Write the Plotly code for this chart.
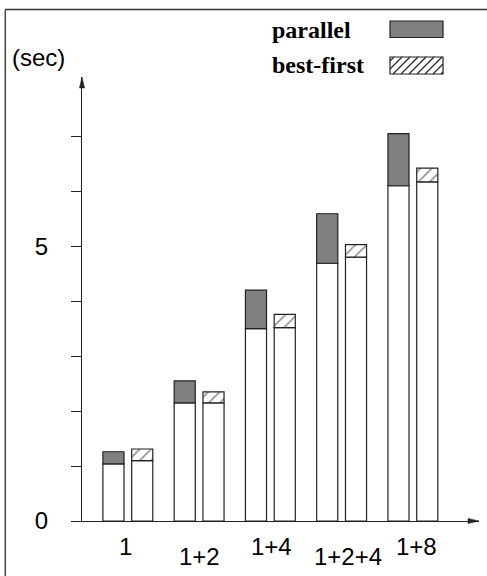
import plotly.graph_objects as go

# Run configurations (x categories)
configs = ["1", "1+2", "1+4", "1+2+4", "1+8"]
label_row = [0, 1, 0, 1, 0]          # alternate label rows to avoid overlap
label_nudge = [-2, 0, 1, 6, 4]       # small horizontal nudges of labels (px)

# Execution times in seconds
parallel_base = [1.04, 2.15, 3.50, 4.69, 6.10]
parallel_total = [1.26, 2.55, 4.20, 5.59, 7.05]
bestfirst_base = [1.10, 2.15, 3.52, 4.80, 6.17]
bestfirst_total = [1.31, 2.35, 3.76, 5.03, 6.42]

y_ticks = [0, 1, 2, 3, 4, 5, 6, 7]
y_tick_text = ["0", "", "", "", "", "5", "", ""]

W, H = 487, 576
ML, MR, MT, MB = 82, 8, 77, 55
PW, PH = W - ML - MR, H - MT - MB

LINE = "#222222"
GRAY = "#808080"
SANS = "Liberation Sans, Arial, sans-serif"
SERIF = "Liberation Serif, Times New Roman, serif"


def px(x):
    return (x - ML) / PW


def py(y):
    return (H - MB - y) / PH


parallel_over = [t - b for t, b in zip(parallel_total, parallel_base)]
bestfirst_over = [t - b for t, b in zip(bestfirst_total, bestfirst_base)]

BAR_W = 0.296
OFF_P = -0.35
OFF_B = 0.054

fig = go.Figure()
common = dict(x=configs, width=BAR_W, showlegend=False, hoverinfo="skip")

fig.add_trace(go.Bar(y=parallel_base, offset=OFF_P,
                     marker=dict(color="white", line=dict(color=LINE, width=1.2)), **common))
fig.add_trace(go.Bar(y=parallel_over, base=parallel_base, offset=OFF_P,
                     marker=dict(color=GRAY, line=dict(color=LINE, width=1.2)), **common))
fig.add_trace(go.Bar(y=bestfirst_base, offset=OFF_B,
                     marker=dict(color="white", line=dict(color=LINE, width=1.2)), **common))
fig.add_trace(go.Bar(y=bestfirst_over, base=bestfirst_base, offset=OFF_B,
                     marker=dict(color="white", line=dict(color=LINE, width=1.2),
                                 pattern=dict(shape="/", fgcolor=LINE, bgcolor="white",
                                              size=8, solidity=0.2)), **common))

x_lo, x_hi = -0.6435, 4.928
y_hi = PH / 54.96

shapes = []
# outer frame: top and left rules
shapes.append(dict(type="line", xref="paper", yref="paper", x0=px(5.3), x1=px(W),
                   y0=py(9.5), y1=py(9.5), line=dict(color="#333333", width=1.5)))
shapes.append(dict(type="line", xref="paper", yref="paper", x0=px(5.3), x1=px(5.3),
                   y0=py(9.5), y1=py(H), line=dict(color="#444444", width=1.5)))

# arrowheads on both axes
shapes.append(dict(type="path", xref="paper", yref="paper", xsizemode="pixel", ysizemode="pixel",
                   xanchor=0, yanchor=1, path="M0,0 L-2.6,-11 L2.6,-11 Z",
                   fillcolor=LINE, line=dict(color=LINE, width=0.5)))
shapes.append(dict(type="path", xref="paper", yref="paper", xsizemode="pixel", ysizemode="pixel",
                   xanchor=1, yanchor=0, path="M0,0 L-11,2.6 L-11,-2.6 Z",
                   fillcolor=LINE, line=dict(color=LINE, width=0.5)))

# legend swatches
sw_x0, sw_x1 = 390, 443
shapes.append(dict(type="rect", xref="paper", yref="paper", x0=px(sw_x0), x1=px(sw_x1),
                   y0=py(21), y1=py(37.5), fillcolor=GRAY, line=dict(color=LINE, width=1.2)))
hy0, hy1 = 57, 74
shapes.append(dict(type="rect", xref="paper", yref="paper", x0=px(sw_x0), x1=px(sw_x1),
                   y0=py(hy0), y1=py(hy1), fillcolor="white", line=dict(color=LINE, width=1.2)))
segs = []
k = sw_x0 + hy0 + 4
while k < sw_x1 + hy1:
    xa = max(sw_x0, k - hy1)
    xb = min(sw_x1, k - hy0)
    if xb > xa:
        segs.append(f"M{px(xa):.5f},{py(k - xa):.5f} L{px(xb):.5f},{py(k - xb):.5f}")
    k += 8
shapes.append(dict(type="path", xref="paper", yref="paper", path=" ".join(segs),
                   line=dict(color=LINE, width=1.1)))

annotations = []
annotations.append(dict(text="(sec)", xref="paper", yref="paper", x=px(38.5), y=py(57),
                        xanchor="center", yanchor="middle", showarrow=False,
                        font=dict(family=SANS, size=24, color="black")))
annotations.append(dict(text="<b>parallel</b>", xref="paper", yref="paper", x=px(270), y=py(30),
                        xanchor="left", yanchor="middle", showarrow=False,
                        font=dict(family=SERIF, size=24, color="black")))
annotations.append(dict(text="<b>best-first</b>", xref="paper", yref="paper", x=px(270), y=py(65),
                        xanchor="left", yanchor="middle", showarrow=False,
                        font=dict(family=SERIF, size=24, color="black")))
# category labels placed by category index on the x axis
for i, (c, row, dx) in enumerate(zip(configs, label_row, label_nudge)):
    annotations.append(dict(text=c, x=i, xref="x", yref="paper",
                            y=py(546.5 if row == 0 else 556), xshift=dx,
                            xanchor="center", yanchor="middle", showarrow=False,
                            font=dict(family=SANS, size=24, color="black")))

fig.update_layout(
    width=W, height=H,
    margin=dict(l=ML, r=MR, t=MT, b=MB, pad=0),
    paper_bgcolor="white", plot_bgcolor="white",
    barmode="overlay",
    shapes=shapes, annotations=annotations,
    xaxis=dict(type="category", range=[x_lo, x_hi], showgrid=False, zeroline=False,
               showline=True, linecolor=LINE, linewidth=1.2, ticks="", showticklabels=False,
               fixedrange=True),
    yaxis=dict(range=[0, y_hi], showgrid=False, zeroline=False,
               showline=True, linecolor=LINE, linewidth=1.2,
               tickmode="array", tickvals=y_ticks, ticktext=y_tick_text,
               ticks="outside", ticklen=10, tickwidth=1.2, tickcolor=LINE,
               ticklabelstandoff=18,
               tickfont=dict(family=SANS, size=24, color="black"), fixedrange=True),
)

fig.write_html("out.html", config={"displayModeBar": False})
